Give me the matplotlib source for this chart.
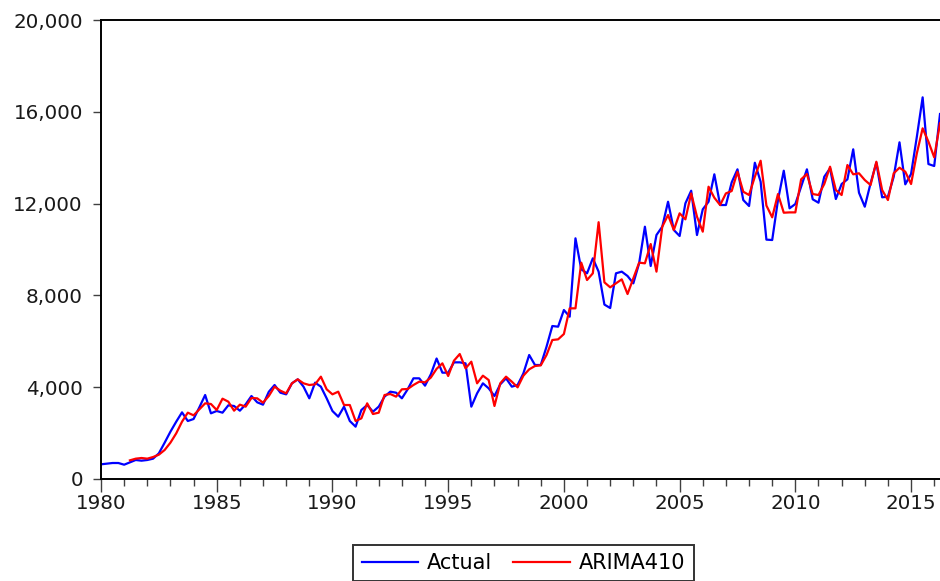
"""
Quarterly series, 1980Q1-2016Q2: actual values against the ARIMA(4,1,0) fit.
"""

import numpy as np
import matplotlib
matplotlib.use("Agg")
import matplotlib.pyplot as plt
from matplotlib.ticker import FuncFormatter, MultipleLocator


# ─────────────────────────────────────────────────────────────────────────────
# Data (quarterly, first observation 1980Q1)
# ─────────────────────────────────────────────────────────────────────────────

START_YEAR = 1980

actual = [
    640, 667, 697, 697, 623, 727, 828, 798, 828, 886,
    1118, 1583, 2062, 2497, 2904, 2527, 2614, 3123, 3660, 2862,
    2963, 2890, 3210, 3181, 2976, 3254, 3616, 3341, 3239, 3800,
    4096, 3761, 3689, 4169, 4343, 4023, 3515, 4198, 4023, 3515,
    2963, 2715, 3152, 2527, 2280, 3006, 3224, 2933, 3152, 3588,
    3805, 3761, 3515, 3908, 4387, 4387, 4067, 4560, 5250, 4633,
    4633, 5083, 5083, 5039, 3152, 3733, 4169, 3951, 3616, 4125,
    4387, 4023, 4096, 4604, 5403, 4967, 4967, 5765, 6666, 6637,
    7363, 7072, 10487, 9136, 8962, 9616, 9035, 7600, 7450, 8962,
    9035, 8845, 8526, 9398, 10993, 9281, 10631, 10993, 12082, 10849,
    10588, 12012, 12561, 10631, 11751, 12082, 13276, 11938, 11938, 12927,
    13494, 12156, 11895, 13781, 12954, 10430, 10413, 12156, 13433, 11794,
    11982, 12736, 13494, 12187, 12039, 13171, 13537, 12200, 12853, 13058,
    14365, 12474, 11865, 12884, 13781, 12274, 12303, 13171, 14670, 12840,
    13289, 14914, 16630, 13724, 13637, 15903,
]

# ARIMA(4,1,0) fitted values: the first five quarters are lost to the lags
fit_offset = 5
arima410 = [
    813, 886, 915, 886, 958,
    1060, 1264, 1583, 1990, 2497, 2890, 2774, 3036, 3297, 3268,
    3006, 3500, 3370, 2976, 3239, 3152, 3529, 3515, 3326, 3616,
    4023, 3849, 3733, 4169, 4343, 4169, 4096, 4125, 4459, 3908,
    3689, 3805, 3224, 3224, 2527, 2643, 3297, 2832, 2890, 3660,
    3703, 3588, 3908, 3921, 4096, 4241, 4212, 4420, 4800, 5039,
    4488, 5156, 5446, 4822, 5112, 4169, 4502, 4313, 3181, 4169,
    4459, 4241, 3994, 4502, 4778, 4923, 4952, 5403, 6056, 6085,
    6318, 7436, 7436, 9427, 8670, 8962, 11190, 8569, 8352, 8526,
    8700, 8060, 8744, 9427, 9398, 10239, 9035, 10993, 11502, 10849,
    11576, 11315, 12445, 11430, 10776, 12736, 12256, 11938, 12445, 12548,
    13389, 12518, 12374, 13171, 13868, 11915, 11402, 12417, 11603, 11617,
    11617, 13058, 13289, 12417, 12374, 12853, 13608, 12591, 12374, 13681,
    13276, 13320, 13027, 12810, 13825, 12591, 12156, 13320, 13564, 13389,
    12853, 14191, 15280, 14700, 14016, 15498,
]

y_ticks = [0, 4000, 8000, 12000, 16000, 20000]


# ─────────────────────────────────────────────────────────────────────────────
# Plot
# ─────────────────────────────────────────────────────────────────────────────

def quarter_axis(n, offset=0):
    return START_YEAR + (np.arange(n) + offset) / 4.0


def main():
    plt.rcParams["font.family"] = ["DejaVu Sans"]

    fig = plt.figure(figsize=(9.4, 5.81), dpi=100)
    ax = fig.add_axes([101 / 940, 1 - 479 / 581, 1 - 101 / 940, (479 - 20) / 581])

    t_act = quarter_axis(len(actual))
    t_fit = quarter_axis(len(arima410), fit_offset)
    ax.plot(t_act, actual, color="#0000ff", lw=1.6, label="Actual")
    ax.plot(t_fit, arima410, color="#ff0000", lw=1.6, label="ARIMA410")

    ax.set_xlim(t_act[0], t_act[-1])
    ax.set_ylim(0, 20000)
    ax.set_yticks(y_ticks)
    ax.yaxis.set_major_formatter(FuncFormatter(lambda v, _: f"{v:,.0f}"))
    ax.xaxis.set_major_locator(MultipleLocator(5))
    ax.xaxis.set_minor_locator(MultipleLocator(1))
    ax.xaxis.set_major_formatter(FuncFormatter(lambda v, _: f"{v:.0f}"))

    ax.tick_params(axis="both", which="both", direction="out", color="#404040",
                   labelcolor="#1a1a1a", labelsize=14.3, top=False, right=False)
    ax.tick_params(axis="x", which="major", length=9, width=1.0, pad=2)
    ax.tick_params(axis="x", which="minor", length=5, width=1.0)
    ax.tick_params(axis="y", which="major", length=6, width=1.0, pad=7)

    for side, sp in ax.spines.items():
        sp.set_color("black")
        sp.set_linewidth(1.4)
    ax.spines["right"].set_visible(False)

    leg = fig.legend(loc="center", bbox_to_anchor=(523.5 / 940, 1 - 563 / 581),
                     ncol=2, fontsize=15, frameon=True, fancybox=False,
                     handlelength=2.7, handletextpad=0.45, columnspacing=1.0,
                     borderpad=0.4, borderaxespad=0)
    leg.get_frame().set_edgecolor("black")
    leg.get_frame().set_linewidth(1.4)

    fig.savefig("out.png", dpi=100)
    plt.close(fig)


if __name__ == "__main__":
    main()
